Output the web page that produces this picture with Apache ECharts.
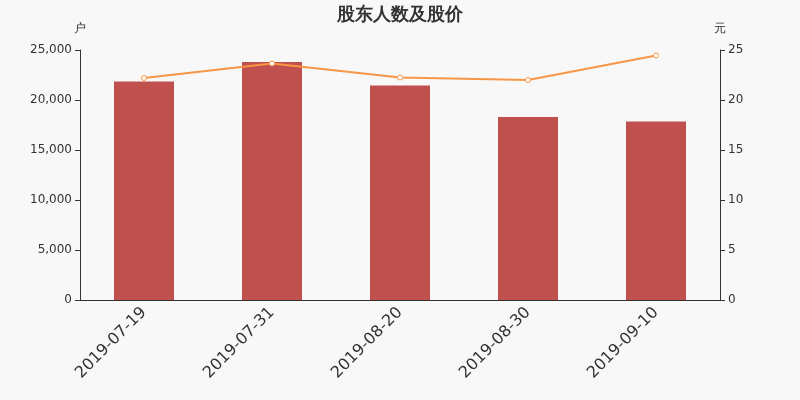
<!DOCTYPE html>
<html><head><meta charset="utf-8">
<script src="https://cdn.jsdelivr.net/npm/echarts@6/dist/echarts.min.js"></script>
<style>html,body{margin:0;padding:0;background:#f8f8f8;}#c{width:800px;height:400px;}</style>
</head><body><div id="c"></div>
<script>
var categories = ['2019-07-19','2019-07-31','2019-08-20','2019-08-30','2019-09-10'];
var holders = [21850, 23800, 21450, 18300, 17850];
var prices = [22.2, 23.65, 22.25, 22.0, 24.45];
var chart = echarts.init(document.getElementById('c'));
chart.setOption({
  backgroundColor: '#f8f8f8',
  animation: false,
  textStyle: {fontFamily: 'DejaVu Sans, sans-serif'},
  title: {text: '股东人数及股价', left: 'center', top: 1, textStyle: {fontSize: 18, fontWeight: 'bold', color: '#333'}},
  grid: {left: 80, right: 80, top: 50, bottom: 100},
  xAxis: {type: 'category', data: categories,
    axisLine: {lineStyle: {color: '#333'}},
    axisTick: {lineStyle: {color: '#333'}},
    axisLabel: {rotate: 45, fontSize: 16, color: '#333', margin: 10}},
  yAxis: [
    {type: 'value', name: '户', min: 0, max: 25000, interval: 5000,
     nameTextStyle: {color: '#333', fontSize: 12, align: 'center'},
     axisLine: {show: true, lineStyle: {color: '#333'}}, axisTick: {show: true},
     splitLine: {show: false}, axisLabel: {color: '#333', fontSize: 12}},
    {type: 'value', name: '元', min: 0, max: 25, interval: 5,
     nameTextStyle: {color: '#333', fontSize: 12, align: 'center'},
     axisLine: {show: true, lineStyle: {color: '#333'}}, axisTick: {show: true},
     splitLine: {show: false}, axisLabel: {color: '#333', fontSize: 12}}
  ],
  series: [
    {type: 'bar', data: holders, barWidth: 60, itemStyle: {color: '#c0504d'}},
    {type: 'line', yAxisIndex: 1, data: prices, symbol: 'circle', symbolSize: 5,
     lineStyle: {color: '#f79646', width: 2},
     itemStyle: {color: '#fff', borderColor: '#f79646', borderWidth: 1}}
  ]
});
</script></body></html>
